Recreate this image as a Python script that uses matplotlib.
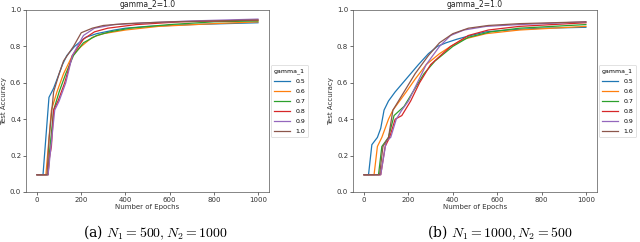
import numpy as np
import matplotlib.pyplot as plt

plt.rcParams['mathtext.fontset'] = 'cm'

gammas = ['0.5', '0.6', '0.7', '0.8', '0.9', '1.0']
colors = ['#1f77b4', '#ff7f0e', '#2ca02c', '#d62728', '#9467bd', '#8c564b']

# (a) N1=500, N2=1000 : (epochs, accuracy) per gamma_1
a_x = [
    [0, 27, 54, 75, 100, 115, 135, 170, 220, 270, 350, 400, 500, 700, 1000],
    [0, 40, 65, 90, 120, 160, 200, 250, 300, 400, 550, 800, 1000],
    [0, 50, 55, 75, 100, 130, 165, 210, 270, 330, 420, 600, 800, 1000],
    [0, 50, 55, 65, 75, 95, 125, 160, 210, 260, 320, 450, 650, 1000],
    [0, 50, 80, 100, 130, 160, 210, 260, 350, 500, 700, 1000],
    [0, 45, 55, 75, 100, 120, 165, 200, 250, 300, 400, 600, 800, 1000],
]
a_y = [
    [0.095, 0.095, 0.52, 0.57, 0.65, 0.70, 0.75, 0.80, 0.85, 0.87, 0.89, 0.90, 0.91, 0.92, 0.93],
    [0.095, 0.095, 0.45, 0.55, 0.65, 0.75, 0.80, 0.85, 0.87, 0.89, 0.91, 0.925, 0.935],
    [0.095, 0.095, 0.20, 0.45, 0.55, 0.65, 0.75, 0.82, 0.86, 0.88, 0.90, 0.92, 0.935, 0.94],
    [0.095, 0.095, 0.18, 0.25, 0.45, 0.50, 0.60, 0.75, 0.84, 0.88, 0.90, 0.92, 0.935, 0.945],
    [0.095, 0.095, 0.45, 0.50, 0.60, 0.75, 0.86, 0.90, 0.92, 0.93, 0.94, 0.95],
    [0.095, 0.095, 0.30, 0.55, 0.65, 0.72, 0.80, 0.875, 0.90, 0.915, 0.925, 0.935, 0.94, 0.945],
]

# (b) N1=1000, N2=500
b_x = [
    [0, 20, 35, 60, 75, 90, 110, 140, 175, 210, 245, 290, 330, 370, 420, 480, 550, 650, 800, 1000],
    [0, 45, 60, 80, 110, 130, 160, 190, 230, 280, 340, 390, 450, 550, 700, 1000],
    [0, 65, 80, 110, 135, 180, 220, 270, 320, 400, 470, 570, 700, 1000],
    [0, 75, 95, 115, 140, 170, 210, 250, 300, 390, 470, 560, 700, 1000],
    [0, 75, 100, 120, 145, 170, 200, 240, 280, 340, 390, 450, 550, 700, 1000],
    [0, 70, 85, 110, 130, 180, 230, 290, 340, 400, 470, 560, 700, 1000],
]
b_y = [
    [0.095, 0.095, 0.26, 0.30, 0.35, 0.45, 0.50, 0.55, 0.60, 0.65, 0.70, 0.76, 0.80, 0.82, 0.84, 0.86, 0.88, 0.89, 0.90, 0.905],
    [0.095, 0.095, 0.25, 0.30, 0.40, 0.45, 0.50, 0.55, 0.62, 0.70, 0.76, 0.80, 0.84, 0.87, 0.89, 0.91],
    [0.095, 0.095, 0.25, 0.30, 0.42, 0.47, 0.55, 0.65, 0.72, 0.80, 0.85, 0.88, 0.90, 0.92],
    [0.095, 0.095, 0.25, 0.30, 0.40, 0.42, 0.50, 0.60, 0.70, 0.80, 0.86, 0.89, 0.91, 0.93],
    [0.095, 0.095, 0.28, 0.30, 0.40, 0.45, 0.50, 0.60, 0.70, 0.80, 0.86, 0.89, 0.91, 0.92, 0.935],
    [0.095, 0.095, 0.25, 0.30, 0.45, 0.55, 0.65, 0.75, 0.82, 0.87, 0.90, 0.915, 0.925, 0.935],
]

captions = [r'(a) $N_1 = 500, N_2 = 1000$', r'(b) $N_1 = 1000, N_2 = 500$']


def draw_panel(ax, xs, ys):
    for x, y, c, g in zip(xs, ys, colors, gammas):
        ax.plot(x, y, color=c, lw=0.9, label=g)
    ax.set_xlim(-50, 1050)
    ax.set_ylim(0, 1.0)
    ax.set_xticks([0, 200, 400, 600, 800, 1000])
    ax.set_yticks([0.0, 0.2, 0.4, 0.6, 0.8, 1.0])
    ax.tick_params(labelsize=5, length=2, width=0.5, pad=1.5, colors='#333333')
    for s in ax.spines.values():
        s.set_linewidth(0.5)
        s.set_color('#555555')
    ax.set_title('gamma_2=1.0', fontsize=5.5, pad=2, color='#222222')
    ax.set_xlabel('Number of Epochs', fontsize=5, labelpad=1, color='#333333')
    ax.set_ylabel('Test Accuracy', fontsize=5, labelpad=2, color='#333333')
    leg = ax.legend(title='gamma_1', loc='center left', bbox_to_anchor=(1.0, 0.5),
                    borderaxespad=0.3, fontsize=4.5, title_fontsize=4.5,
                    handlelength=2.6, handletextpad=0.8, borderpad=0.5,
                    labelspacing=0.75, framealpha=1)
    leg.get_frame().set_linewidth(0.4)


fig = plt.figure(figsize=(6.4, 2.42), dpi=100)
ax1 = fig.add_axes([26 / 640, 1 - 192 / 242, 243 / 640, 182 / 242])
ax2 = fig.add_axes([353 / 640, 1 - 192 / 242, 244 / 640, 182 / 242])
draw_panel(ax1, a_x, a_y)
draw_panel(ax2, b_x, b_y)

fig.text(155 / 640, 1 - 233 / 242, captions[0], ha='center', va='center', fontsize=10, family='serif')
fig.text(500 / 640, 1 - 233 / 242, captions[1], ha='center', va='center', fontsize=10, family='serif')

fig.savefig('out.png', dpi=100)
